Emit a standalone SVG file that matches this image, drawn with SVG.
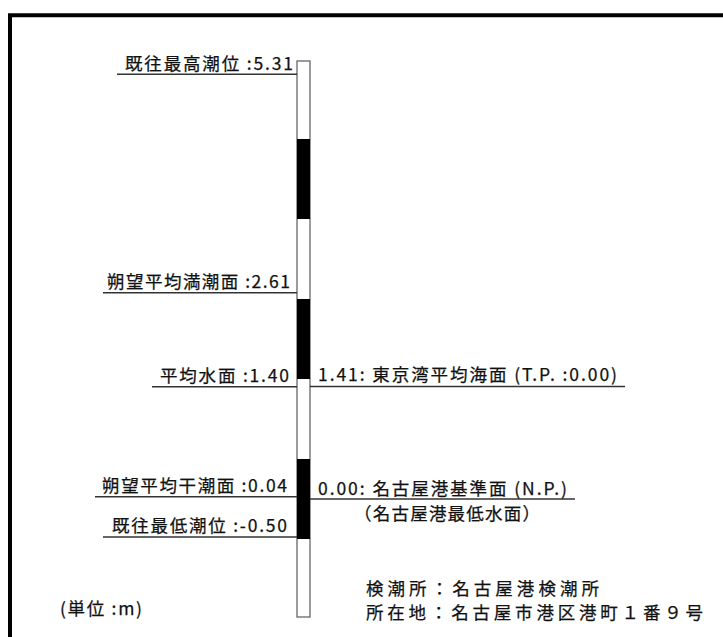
<svg xmlns="http://www.w3.org/2000/svg" width="723" height="637" viewBox="0 0 723 637">
<style>
  .t { font-family: "Noto Sans CJK JP", "Noto Sans", sans-serif; font-size: 17.5px; fill: #111; stroke: #111; stroke-width: 0.25; }
  .ln { stroke: #333; stroke-width: 1.6; fill: none; }
  .staff { fill: #fff; stroke: #666; stroke-width: 1.3; }
  .blk { fill: #000; }
  .frame { fill: none; stroke: #000; stroke-width: 4; stroke-linejoin: miter; }
</style>
<rect x="0" y="0" width="723" height="637" fill="#fff"/>
<path class="frame" d="M10,637 V15.3 H723"/>

<g id="staff">
  <rect class="staff" x="297" y="61" width="13" height="556"/>
  <rect class="blk" x="297" y="139" width="13" height="80"/>
  <rect class="blk" x="297" y="299" width="13" height="80"/>
  <rect class="blk" x="297" y="459" width="13" height="80"/>
</g>

<g id="connectors">
  <line class="ln" x1="117" y1="74.3" x2="297" y2="74.3"/>
  <line class="ln" x1="103" y1="292.7" x2="297" y2="292.7"/>
  <line class="ln" x1="152" y1="386.7" x2="297" y2="386.7"/>
  <line class="ln" x1="310" y1="386.5" x2="625" y2="386.5"/>
  <line class="ln" x1="95" y1="496.7" x2="297" y2="496.7"/>
  <line class="ln" x1="310" y1="499" x2="575" y2="499"/>
  <line class="ln" x1="103" y1="537" x2="297" y2="537"/>
</g>

<g id="label-max-high">
  <text class="t" x="125" y="69.5" textLength="168" lengthAdjust="spacing">既往最高潮位 :5.31</text>
</g>
<g id="label-mhws">
  <text class="t" x="107" y="288" textLength="183" lengthAdjust="spacing">朔望平均満潮面 :2.61</text>
</g>
<g id="label-msl">
  <text class="t" x="160" y="382" textLength="129" lengthAdjust="spacing">平均水面 :1.40</text>
</g>
<g id="label-tp">
  <text class="t" x="318" y="381" textLength="299" lengthAdjust="spacing">1.41: 東京湾平均海面 (T.P. :0.00)</text>
</g>
<g id="label-mlws">
  <text class="t" x="102" y="492" textLength="185" lengthAdjust="spacing">朔望平均干潮面 :0.04</text>
</g>
<g id="label-np">
  <text class="t" x="318" y="495" textLength="249" lengthAdjust="spacing">0.00: 名古屋港基準面 (N.P.)</text>
  <text class="t" x="354" y="520" textLength="186" lengthAdjust="spacing">（名古屋港最低水面）</text>
</g>
<g id="label-min-low">
  <text class="t" x="112" y="532" textLength="175" lengthAdjust="spacing">既往最低潮位 :-0.50</text>
</g>
<g id="label-unit">
  <text class="t" x="60" y="615" textLength="82" lengthAdjust="spacing">(単位 :m)</text>
</g>
<g id="label-station">
  <text class="t" x="366" y="595" textLength="233" lengthAdjust="spacing">検潮所：名古屋港検潮所</text>
  <text class="t" x="366" y="619" textLength="337" lengthAdjust="spacing">所在地：名古屋市港区港町１番９号</text>
</g>
</svg>
